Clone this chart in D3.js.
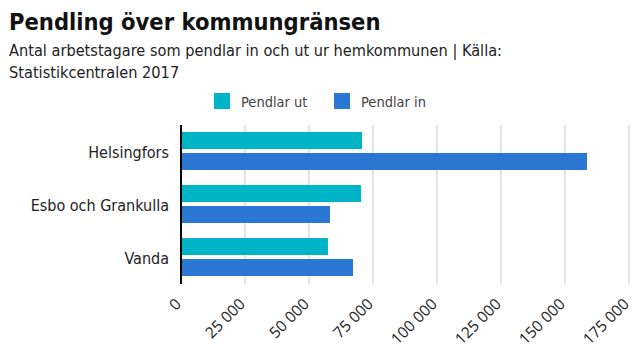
<!DOCTYPE html>
<html><head><meta charset="utf-8">
<script src="https://cdn.jsdelivr.net/npm/d3@7"></script>
<style>
body{margin:0;background:#fff;}
svg text{font-family:"DejaVu Sans Condensed",sans-serif;}
</style></head>
<body><svg id="c" width="640" height="360"></svg>
<script>
const categories = ["Helsingfors","Esbo och Grankulla","Vanda"];
const seriesNames = ["Pendlar ut","Pendlar in"];
const pendlarUt = [70700, 70300, 57400];
const pendlarIn = [158600, 58200, 67200];
const xTicks = [0,25000,50000,75000,100000,125000,150000,175000];
const colors = ["#00b4c8","#2a77d4"];

const svg = d3.select("#c");
const m = {l:181, r:629, t:125, b:284};
const x = d3.scaleLinear().domain([0,175000]).range([m.l, m.r]);
const y0 = d3.scaleBand().domain(categories).range([m.t, m.b]).padding(0);
const y1 = d3.scaleBand().domain(seriesNames).range([7, y0.bandwidth()-8]).paddingInner(0.19).paddingOuter(0);

svg.append("text").attr("x",9).attr("y",30).attr("font-size",23.5).attr("font-weight","bold").attr("fill","#111").text("Pendling över kommungränsen");
svg.append("text").attr("x",9).attr("y",56).attr("font-size",16.2).attr("fill","#222").text("Antal arbetstagare som pendlar in och ut ur hemkommunen | Källa:");
svg.append("text").attr("x",9).attr("y",78).attr("font-size",16.2).attr("fill","#222").text("Statistikcentralen 2017");

// legend
const legX = [214,334];
seriesNames.forEach((s,i)=>{
  svg.append("rect").attr("x",legX[i]).attr("y",93).attr("width",16).attr("height",16).attr("fill",colors[i]);
  svg.append("text").attr("x",legX[i]+27).attr("y",107).attr("font-size",14.5).attr("fill","#444").text(s);
});

// grid
svg.append("g").selectAll("line").data(xTicks.slice(1)).join("line")
  .attr("x1",d=>x(d)).attr("x2",d=>x(d)).attr("y1",m.t).attr("y2",m.b)
  .attr("stroke","#e3e3e3").attr("stroke-width",2);

// bars
const data = categories.map((c,i)=>({c, vals:[{s:seriesNames[0],v:pendlarUt[i]},{s:seriesNames[1],v:pendlarIn[i]}]}));
const g = svg.append("g").selectAll("g").data(data).join("g").attr("transform",d=>`translate(0,${y0(d.c)})`);
g.selectAll("rect").data(d=>d.vals).join("rect")
  .attr("x",x(0)).attr("y",d=>y1(d.s)).attr("height",y1.bandwidth())
  .attr("width",d=>x(d.v)-x(0)).attr("fill",(d,i)=>colors[i]);

// category labels
svg.append("g").selectAll("text").data(categories).join("text")
  .attr("x",169).attr("y",d=>y0(d)+y0.bandwidth()/2+6.5).attr("text-anchor","end")
  .attr("font-size",16).attr("fill","#222").text(d=>d);

// axis line
svg.append("line").attr("x1",x(0)).attr("x2",x(0)).attr("y1",m.t).attr("y2",m.b).attr("stroke","#000").attr("stroke-width",2);

// x tick labels
const fmt = d=>d3.format(",")(d).replace(/,/g," ");
svg.append("g").selectAll("text").data(xTicks).join("text")
  .attr("transform",d=>`translate(${x(d)+1},${305}) rotate(-45)`)
  .attr("text-anchor","end").attr("font-size",15.5).attr("fill","#222")
  .style("font-family","'Open Sans',sans-serif")
  .text(fmt);
</script></body></html>
